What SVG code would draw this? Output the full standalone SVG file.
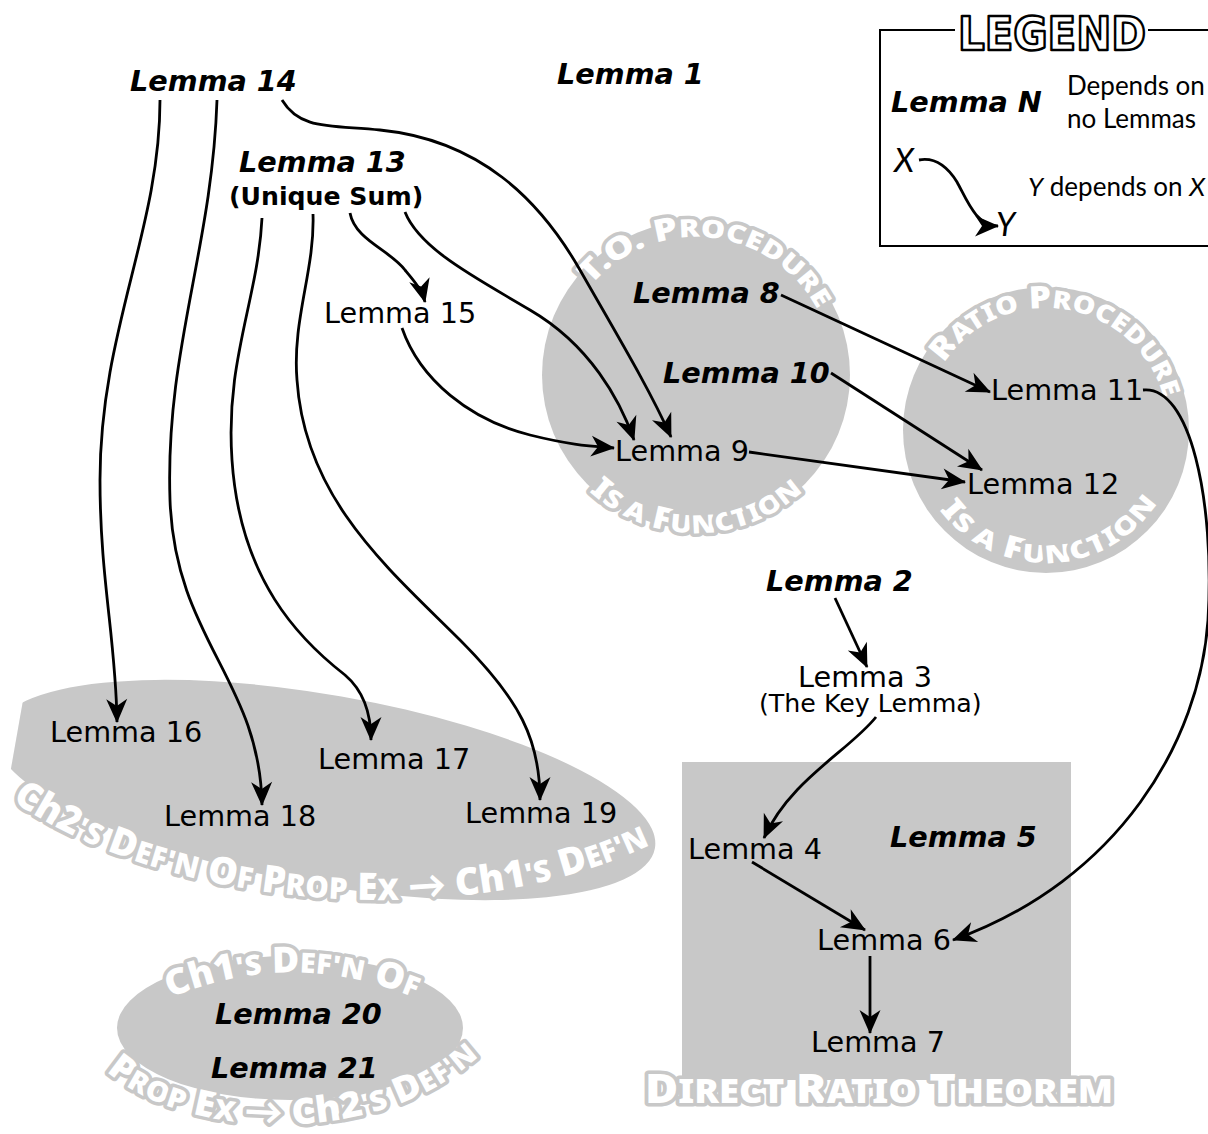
<svg xmlns="http://www.w3.org/2000/svg" width="1208" height="1134" viewBox="0 0 1208 1134">
<defs>
<style>
.lm{font-family:"DejaVu Sans",sans-serif;font-size:28.7px;fill:#000}
.ax{font-family:"DejaVu Sans",sans-serif;font-size:28.7px;font-weight:bold;font-style:oblique;fill:#000}
.deco{font-family:"Noto Sans",Lato,"DejaVu Sans",sans-serif;font-weight:900;fill:#fff;stroke:#c8c8c8;stroke-width:7;stroke-linejoin:round;paint-order:stroke}
.edge{fill:none;stroke:#000;stroke-width:2.8;marker-end:url(#ah)}
.area{fill:#c8c8c8}
.leg{font-family:Lato,"DejaVu Sans",sans-serif;font-size:26px;fill:#000}
</style>
<marker id="ah" viewBox="-25 -12 27 24" refX="0" refY="0" markerWidth="27" markerHeight="24" markerUnits="userSpaceOnUse" orient="auto"><path d="M1,0 L-23,-10.5 L-16,0 L-23,10.5 Z" fill="#000"/></marker>
<clipPath id="clipL"><rect x="12" y="0" width="1200" height="1134"/></clipPath>
<path id="pTOtop" d="M558,375 A138,138 0 0 1 834,375"/>
<path id="pTObot" d="M538,375 A158,158 0 0 0 854,375"/>
<path id="pRtop" d="M924,430 A122,122 0 0 1 1168,430"/>
<path id="pRbot" d="M913,430 A133,133 0 0 0 1179,430"/>
<path id="pBig" d="M12,800 C150,900 450,945 660,840"/>
<path id="pSmTop" d="M165,1000 Q292,945 420,1000"/>
<path id="pSmBot" d="M105,1070 C180,1140 380,1150 480,1055"/>
</defs>
<rect width="1208" height="1134" fill="#fff"/>

<g id="cluster-to">
<circle class="area" cx="696" cy="375" r="154"/>
<text class="deco" font-size="31" text-anchor="middle"><textPath href="#pTOtop" startOffset="53.3%" textLength="268" lengthAdjust="spacingAndGlyphs">T.O. P<tspan font-size="25">ROCEDURE</tspan></textPath></text>
<text class="deco" font-size="31" text-anchor="middle"><textPath href="#pTObot" startOffset="50%" textLength="235" lengthAdjust="spacingAndGlyphs">I<tspan font-size="25">S A</tspan> F<tspan font-size="25">UNCTION</tspan></textPath></text>
</g>
<g id="cluster-ratio">
<circle class="area" cx="1046" cy="430" r="143"/>
<text class="deco" font-size="31" text-anchor="middle"><textPath href="#pRtop" startOffset="55%" textLength="280" lengthAdjust="spacingAndGlyphs">R<tspan font-size="25">ATIO</tspan> P<tspan font-size="25">ROCEDURE</tspan></textPath></text>
<text class="deco" font-size="31" text-anchor="middle"><textPath href="#pRbot" startOffset="51%" textLength="255" lengthAdjust="spacingAndGlyphs">I<tspan font-size="25">S A</tspan> F<tspan font-size="25">UNCTION</tspan></textPath></text>
</g>
<g id="cluster-ch2">
<ellipse class="area" cx="325" cy="790" rx="335" ry="95" transform="rotate(10 325 790)" clip-path="url(#clipL)"/>
<text class="deco" font-size="38"><textPath href="#pBig" startOffset="0" textLength="665" lengthAdjust="spacingAndGlyphs">Ch2<tspan font-size="30">'S</tspan> D<tspan font-size="30">EF'N</tspan> O<tspan font-size="30">F</tspan> P<tspan font-size="30">ROP</tspan> E<tspan font-size="30">X</tspan> → Ch1<tspan font-size="30">'S</tspan> D<tspan font-size="30">EF'N</tspan></textPath></text>
</g>
<g id="cluster-ch1">
<ellipse class="area" cx="290" cy="1028" rx="173" ry="72"/>
<text class="deco" font-size="36" text-anchor="middle"><textPath href="#pSmTop" startOffset="50%" textLength="252" lengthAdjust="spacingAndGlyphs">Ch1<tspan font-size="28">'S</tspan> D<tspan font-size="28">EF'N</tspan> O<tspan font-size="28">F</tspan></textPath></text>
<text class="deco" font-size="36" text-anchor="middle"><textPath href="#pSmBot" startOffset="50%" textLength="400" lengthAdjust="spacingAndGlyphs">P<tspan font-size="28">ROP</tspan> E<tspan font-size="28">X</tspan> → Ch2<tspan font-size="28">'S</tspan> D<tspan font-size="28">EF'N</tspan></textPath></text>
</g>
<g id="cluster-drt">
<rect class="area" x="682" y="762" width="389" height="318"/>
<text class="deco" font-size="41" x="879" y="1103" text-anchor="middle" textLength="468" lengthAdjust="spacingAndGlyphs">D<tspan font-size="33">IRECT</tspan> R<tspan font-size="33">ATIO</tspan> T<tspan font-size="33">HEOREM</tspan></text>
</g>

<g id="legend">
<path d="M955,30 H880 V246 H1212 M1148,30 H1212" fill="none" stroke="#000" stroke-width="2"/>
<text x="1052" y="50" text-anchor="middle" font-family="'DejaVu Sans Condensed','DejaVu Sans',sans-serif" font-weight="bold" font-size="47" fill="#fff" stroke="#000" stroke-width="2.4" stroke-linejoin="round" textLength="188" lengthAdjust="spacingAndGlyphs">LEGEND</text>
<text class="ax" x="891" y="112">Lemma N</text>
<text class="leg" x="1067" y="95">Depends on</text>
<text class="leg" x="1067" y="128">no Lemmas</text>
<text class="leg" x="894" y="172" style="font-size:33px;font-style:italic">X</text>
<text class="leg" x="996" y="236" style="font-size:33px;font-style:italic">Y</text>
<text class="leg" x="1028" y="196"><tspan font-style="italic">Y</tspan> depends on <tspan font-style="italic">X</tspan></text>
<path class="edge" d="M919,160 C935,157 947,166 957,182 C967,200 976,226 998,226"/>
</g>

<g id="connectors">
<path class="edge" d="M160,100 C160,230 100,330 100,480 C100,580 116,640 117,722"/>
<path class="edge" d="M217,100 C212,250 165,350 170,500 C175,640 260,680 262,805"/>
<path class="edge" d="M282,100 C300,130 330,125 380,130 C480,140 540,200 580,270 C620,340 650,390 671,437"/>
<path class="edge" d="M262,218 C258,300 225,360 232,460 C240,580 300,640 345,675 C365,692 371,715 371,740"/>
<path class="edge" d="M313,214 C315,270 292,320 297,380 C305,500 390,570 460,640 C520,700 540,740 540,800"/>
<path class="edge" d="M350,213 C355,240 390,250 405,270 C415,282 422,290 425,302"/>
<path class="edge" d="M405,212 C420,250 480,280 530,310 C590,345 620,400 634,440"/>
<path class="edge" d="M402,328 C420,380 470,420 530,435 C570,445 590,446 614,448"/>
<path class="edge" d="M781,295 L990,392"/>
<path class="edge" d="M831,373 L982,470"/>
<path class="edge" d="M749,452 L965,482"/>
<path class="edge" d="M1143,390 C1190,385 1215,500 1208,620 C1200,740 1120,880 953,940"/>
<path class="edge" d="M835,598 L867,667"/>
<path class="edge" d="M876,717 C850,750 790,780 764,838"/>
<path class="edge" d="M752,862 L865,930"/>
<path class="edge" d="M870,956 L870,1033"/>
</g>

<g id="n1"><text class="ax" x="557" y="84">Lemma 1</text></g>
<g id="n2"><text class="ax" x="766" y="591">Lemma 2</text></g>
<g id="n3"><text class="lm" x="798" y="687">Lemma 3</text><text class="lm" x="759" y="712" style="font-size:25.3px">(The Key Lemma)</text></g>
<g id="n4"><text class="lm" x="688" y="859">Lemma 4</text></g>
<g id="n5"><text class="ax" x="890" y="847">Lemma 5</text></g>
<g id="n6"><text class="lm" x="817" y="950">Lemma 6</text></g>
<g id="n7"><text class="lm" x="811" y="1052">Lemma 7</text></g>
<g id="n8"><text class="ax" x="633" y="303">Lemma 8</text></g>
<g id="n9"><text class="lm" x="615" y="461">Lemma 9</text></g>
<g id="n10"><text class="ax" x="663" y="383">Lemma 10</text></g>
<g id="n11"><text class="lm" x="991" y="400">Lemma 11</text></g>
<g id="n12"><text class="lm" x="967" y="494">Lemma 12</text></g>
<g id="n13"><text class="ax" x="239" y="172">Lemma 13</text><text x="229" y="205" font-family="'DejaVu Sans',sans-serif" font-weight="bold" font-size="25.2">(Unique Sum)</text></g>
<g id="n14"><text class="ax" x="130" y="91">Lemma 14</text></g>
<g id="n15"><text class="lm" x="324" y="323">Lemma 15</text></g>
<g id="n16"><text class="lm" x="50" y="742">Lemma 16</text></g>
<g id="n17"><text class="lm" x="318" y="769">Lemma 17</text></g>
<g id="n18"><text class="lm" x="164" y="826">Lemma 18</text></g>
<g id="n19"><text class="lm" x="465" y="823">Lemma 19</text></g>
<g id="n20"><text class="ax" x="215" y="1024">Lemma 20</text></g>
<g id="n21"><text class="ax" x="211" y="1078">Lemma 21</text></g>
</svg>
